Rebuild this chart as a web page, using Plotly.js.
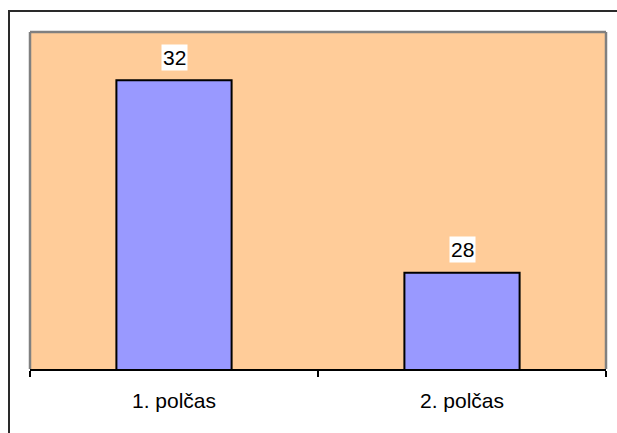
<!DOCTYPE html>
<html>
<head>
<meta charset="utf-8">
<script src="https://cdn.plot.ly/plotly-3.0.1.min.js"></script>
<style>
  html, body { margin: 0; padding: 0; background: #fff; overflow: hidden; }
  #frame { position: absolute; left: 8px; top: 10px; width: 700px; height: 600px; border: 2px solid #2a2a2a; box-sizing: border-box; }
  #chart { position: absolute; left: 0; top: 0; width: 617px; height: 433px; }
</style>
</head>
<body>
<div id="frame"></div>
<div id="chart"></div>
<script>
const categories = ["1. polčas", "2. polčas"];
const values = [32, 28];
const yRange = [26, 33];

const trace = {
  type: "bar",
  x: categories,
  y: values,
  marker: { color: "#9999FF", line: { color: "#000000", width: 2 } },
  hoverinfo: "none"
};

const annotations = categories.map((c, i) => ({
  x: c, y: values[i], xref: "x", yref: "y",
  text: String(values[i]),
  showarrow: false,
  yanchor: "middle",
  yshift: 23,
  bgcolor: "#FFFFFF",
  borderpad: 1,
  font: { family: "Liberation Sans, Arial, sans-serif", size: 21, color: "#000" }
}));

const layout = {
  width: 617, height: 433,
  margin: { l: 30, r: 11, t: 32, b: 64 },
  paper_bgcolor: "rgba(0,0,0,0)",
  plot_bgcolor: "#FFCC99",
  bargap: 0.6,
  showlegend: false,
  font: { family: "Liberation Sans, Arial, sans-serif", size: 21, color: "#000" },
  xaxis: {
    type: "category",
    range: [-0.5, 1.5],
    tickson: "boundaries",
    ticks: "outside",
    ticklen: 6,
    tickwidth: 2,
    tickcolor: "#000",
    showline: true,
    linecolor: "#000",
    linewidth: 2,
    showgrid: false,
    zeroline: false,
    ticklabelstandoff: 12,
    tickfont: { size: 21 },
    layer: "above traces"
  },
  yaxis: {
    range: yRange,
    showticklabels: false,
    ticks: "",
    showgrid: false,
    zeroline: false,
    showline: false
  },
  shapes: [
    { type: "line", xref: "paper", yref: "paper", x0: 0, x1: 0, y0: 0, y1: 1, line: { color: "#808080", width: 2.5 } },
    { type: "line", xref: "paper", yref: "paper", x0: 0, x1: 1, y0: 1, y1: 1, line: { color: "#808080", width: 2.5 } },
    { type: "line", xref: "paper", yref: "paper", x0: 1, x1: 1, y0: 0, y1: 1, line: { color: "#808080", width: 2.5 } }
  ],
  annotations: annotations
};

Plotly.newPlot("chart", [trace], layout, { displayModeBar: false, staticPlot: true });
</script>
</body>
</html>
